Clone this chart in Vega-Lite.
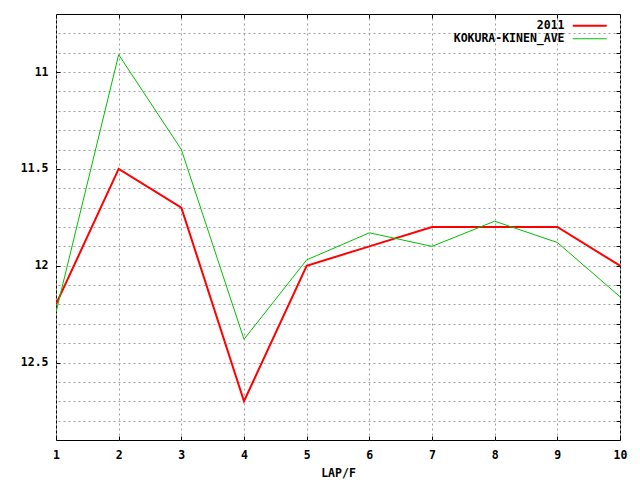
{
  "$schema": "https://vega.github.io/schema/vega-lite/v6.json",
  "width": 564,
  "height": 426,
  "autosize": {"type": "none"},
  "padding": {"left": 56, "top": 14, "right": 20, "bottom": 40},
  "background": "white",
  "config": {
    "view": {"stroke": "black", "strokeWidth": 1},
    "font": "DejaVu Sans Mono",
    "axis": {
      "labelFont": "DejaVu Sans Mono",
      "labelFontWeight": "bold",
      "labelFontSize": 11.5,
      "labelColor": "black",
      "titleFont": "DejaVu Sans Mono",
      "titleFontWeight": "bold",
      "titleFontSize": 11.5,
      "titleColor": "black",
      "domain": false,
      "tickColor": "black",
      "gridColor": "#a0a0a0",
      "gridDash": [2, 3],
      "gridWidth": 1,
      "gridOpacity": 1
    },
    "legend": {
      "labelFont": "DejaVu Sans Mono",
      "labelFontWeight": "bold",
      "labelFontSize": 11.5,
      "labelColor": "black"
    }
  },
  "data": {
    "values": [
      {"lap": 1, "series": "2011", "time": 12.2},
      {"lap": 2, "series": "2011", "time": 11.5},
      {"lap": 3, "series": "2011", "time": 11.7},
      {"lap": 4, "series": "2011", "time": 12.7},
      {"lap": 5, "series": "2011", "time": 12.0},
      {"lap": 6, "series": "2011", "time": 11.9},
      {"lap": 7, "series": "2011", "time": 11.8},
      {"lap": 8, "series": "2011", "time": 11.8},
      {"lap": 9, "series": "2011", "time": 11.8},
      {"lap": 10, "series": "2011", "time": 12.0},
      {"lap": 1, "series": "KOKURA-KINEN_AVE", "time": 12.24},
      {"lap": 2, "series": "KOKURA-KINEN_AVE", "time": 10.91},
      {"lap": 3, "series": "KOKURA-KINEN_AVE", "time": 11.4},
      {"lap": 4, "series": "KOKURA-KINEN_AVE", "time": 12.38},
      {"lap": 5, "series": "KOKURA-KINEN_AVE", "time": 11.97},
      {"lap": 6, "series": "KOKURA-KINEN_AVE", "time": 11.83},
      {"lap": 7, "series": "KOKURA-KINEN_AVE", "time": 11.9},
      {"lap": 8, "series": "KOKURA-KINEN_AVE", "time": 11.77},
      {"lap": 9, "series": "KOKURA-KINEN_AVE", "time": 11.88},
      {"lap": 10, "series": "KOKURA-KINEN_AVE", "time": 12.16}
    ]
  },
  "layer": [
    {
      "mark": {"type": "point", "opacity": 0},
      "encoding": {
        "x": {
          "field": "lap", "type": "quantitative",
          "scale": {"domain": [1, 10], "nice": false, "zero": false},
          "axis": {"orient": "top", "values": [1,2,3,4,5,6,7,8,9,10], "labels": false, "grid": false, "tickSize": -4, "title": null}
        },
        "y": {
          "field": "time", "type": "quantitative",
          "scale": {"domain": [10.7, 12.9], "reverse": true, "nice": false, "zero": false},
          "axis": {"orient": "right", "values": [10.8,10.9,11.0,11.1,11.2,11.3,11.4,11.5,11.6,11.7,11.8,11.9,12.0,12.1,12.2,12.3,12.4,12.5,12.6,12.7,12.8], "labels": false, "grid": true, "tickSize": -4, "title": null}
        }
      }
    },
    {
      "mark": {"type": "line", "clip": true},
      "encoding": {
        "x": {
          "field": "lap", "type": "quantitative",
          "scale": {"domain": [1, 10], "nice": false, "zero": false},
          "axis": {"orient": "bottom", "values": [1,2,3,4,5,6,7,8,9,10], "grid": true, "tickSize": -4, "labelPadding": 13, "labelFlush": false, "title": "LAP/F", "titlePadding": 7}
        },
        "y": {
          "field": "time", "type": "quantitative",
          "scale": {"domain": [10.7, 12.9], "reverse": true, "nice": false, "zero": false},
          "axis": {"orient": "left", "values": [11, 11.5, 12, 12.5], "format": "~g", "grid": false, "tickSize": -4, "labelPadding": 12, "title": null}
        },
        "color": {
          "field": "series", "type": "nominal",
          "scale": {"domain": ["2011", "KOKURA-KINEN_AVE"], "range": ["#ff0000", "#00c000"]},
          "legend": {"title": null, "orient": "none", "legendX": 528, "legendY": 6, "labelAlign": "right", "labelOffset": -31, "symbolType": "M-5,0H5", "symbolSize": 46, "symbolStrokeWidth": 2, "rowPadding": 0}
        },
        "strokeWidth": {
          "field": "series", "type": "nominal",
          "scale": {"domain": ["2011", "KOKURA-KINEN_AVE"], "range": [2, 1]},
          "legend": null
        }
      }
    }
  ],
  "resolve": {"axis": {"x": "independent", "y": "independent"}}
}
